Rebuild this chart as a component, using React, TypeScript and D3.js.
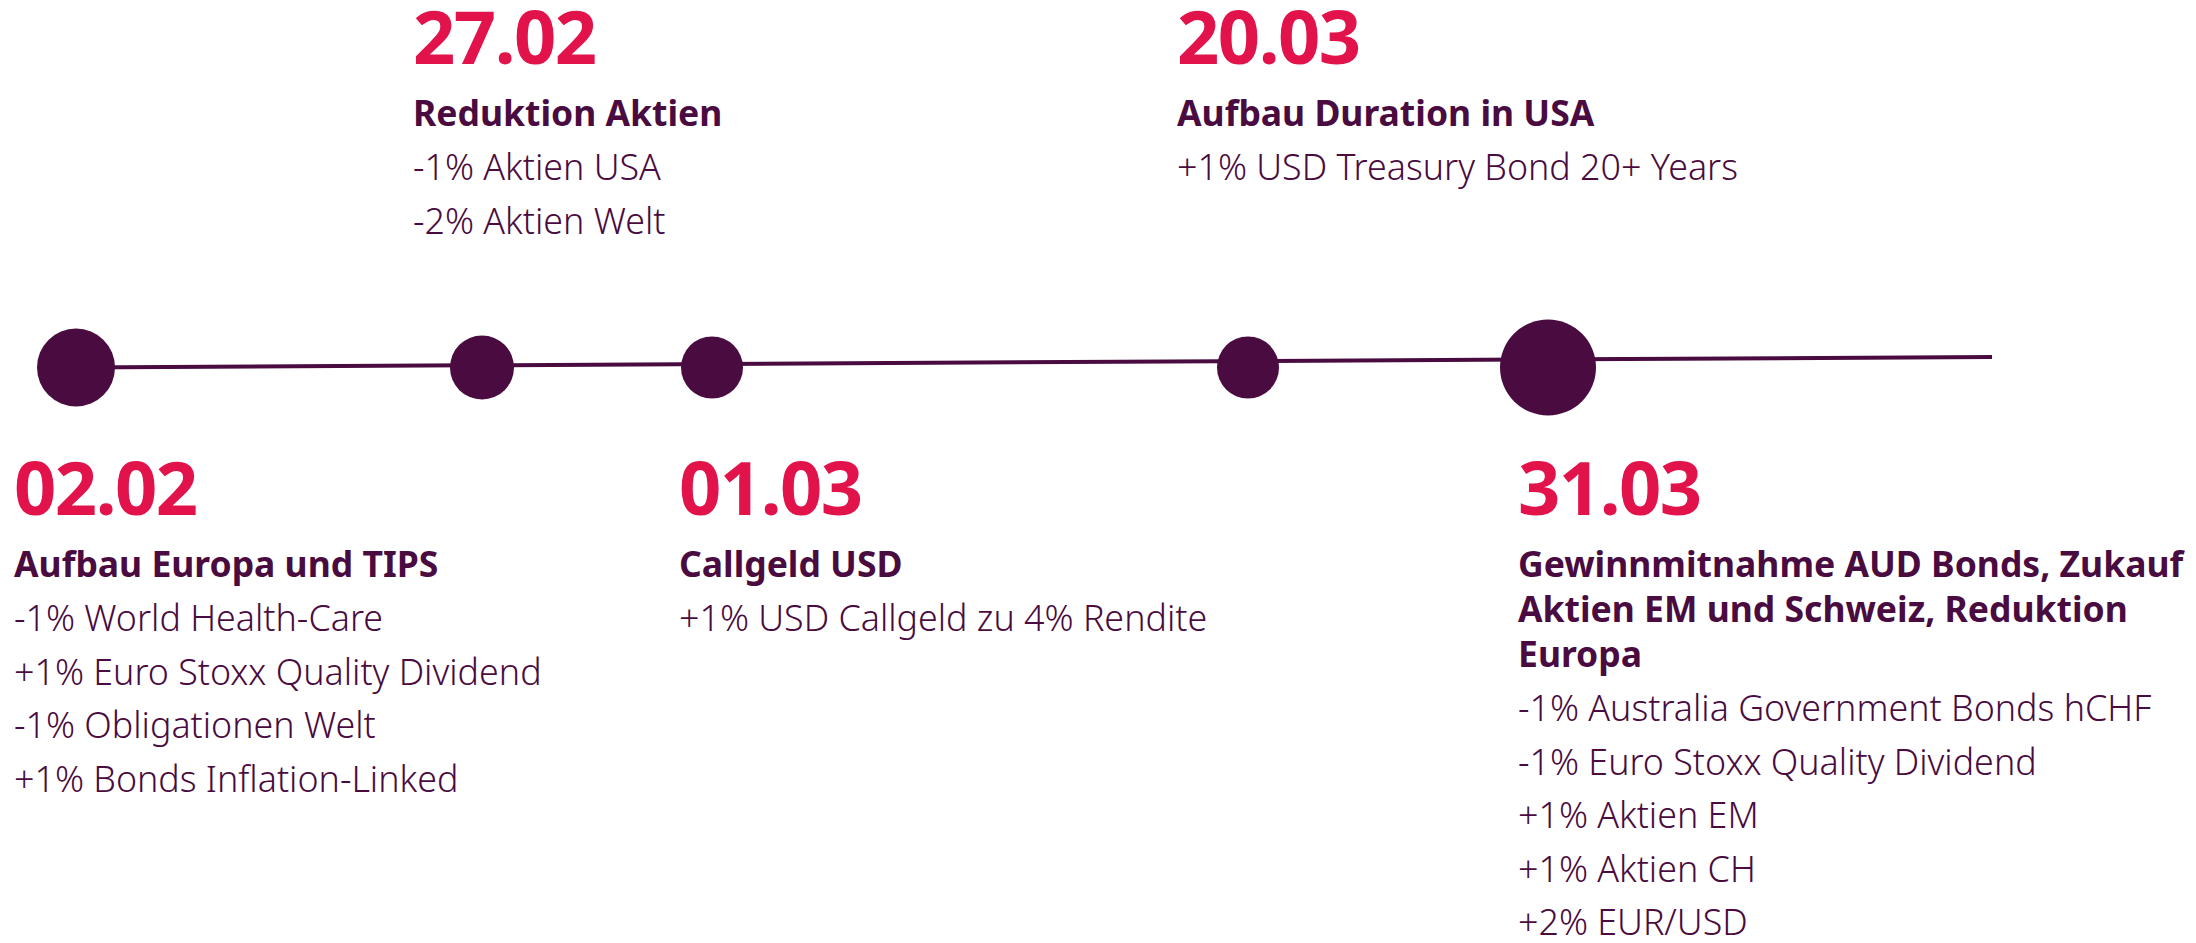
import React from "react";
import * as d3 from "d3";

// ---- data ----
const dates: string[] = ["02.02", "27.02", "01.03", "20.03", "31.03"];
const titles: string[][] = [
  ["Aufbau Europa und TIPS"],
  ["Reduktion Aktien"],
  ["Callgeld USD"],
  ["Aufbau Duration in USA"],
  ["Gewinnmitnahme AUD Bonds, Zukauf", "Aktien EM und Schweiz, Reduktion", "Europa"],
];
const changes: string[][] = [
  ["-1% World Health-Care", "+1% Euro Stoxx Quality Dividend", "-1% Obligationen Welt", "+1% Bonds Inflation-Linked"],
  ["-1% Aktien USA", "-2% Aktien Welt"],
  ["+1% USD Callgeld zu 4% Rendite"],
  ["+1% USD Treasury Bond 20+ Years"],
  ["-1% Australia Government Bonds hCHF", "-1% Euro Stoxx Quality Dividend", "+1% Aktien EM", "+1% Aktien CH", "+2% EUR/USD"],
];
const sides: string[] = ["below", "above", "below", "above", "below"];

// ---- layout / style ----
const W = 2196;
const H = 943;
const RED = "#e2124a";
const PURPLE = "#490b40";
const FONT = "'Noto Sans', 'Open Sans', sans-serif";

const idx = d3.range(dates.length);
const xMarker = d3.scaleLinear().domain(idx).range([76, 482, 712, 1248, 1548]);
const xLabel = d3.scaleLinear().domain(idx).range([14, 413, 679, 1177, 1518]);
const rScale = d3.scaleLinear().domain([1, 2, 4, 5]).range([31, 32, 39, 48]);
const lineY = d3.scaleLinear().domain([76, 1992]).range([367.5, 357]);
const markerY = 367.5;

const DATE_SIZE = 74;
const TITLE_SIZE = 35.5;
const BODY_SIZE = 35.8;
const TITLE_LH = 45;
const BODY_LH = 53.6;

export default function App() {
  const line = d3.line<number>().x((d) => d).y((d) => lineY(d));
  return (
    <svg
      width={W}
      height={H}
      viewBox={`0 0 ${W} ${H}`}
      style={{ position: "absolute", left: 0, top: 0, background: "#fff" }}
      fontFamily={FONT}
    >
      <path d={line([76, 1992]) || ""} stroke={PURPLE} strokeWidth={4} fill="none" />
      {idx.map((i) => (
        <circle key={`c${i}`} cx={xMarker(i)} cy={markerY} r={rScale(changes[i].length)} fill={PURPLE} />
      ))}
      {idx.map((i) => {
        const x = xLabel(i);
        const dateBase = sides[i] === "above" ? 64 : 515;
        const titleBase = dateBase + 62;
        const bodyBase = titleBase + (titles[i].length - 1) * TITLE_LH + 54;
        return (
          <g key={`t${i}`}>
            <text x={x} y={dateBase} fill={RED} fontSize={DATE_SIZE} fontWeight={700} letterSpacing={-1.5}>
              {dates[i]}
            </text>
            {titles[i].map((t, j) => (
              <text key={j} x={x} y={titleBase + j * TITLE_LH} fill={PURPLE} fontSize={TITLE_SIZE} fontWeight={700}>
                {t}
              </text>
            ))}
            {changes[i].map((t, j) => (
              <text key={j} x={x} y={bodyBase + j * BODY_LH} fill={PURPLE} fontSize={BODY_SIZE} fontWeight={300}>
                {t}
              </text>
            ))}
          </g>
        );
      })}
    </svg>
  );
}
